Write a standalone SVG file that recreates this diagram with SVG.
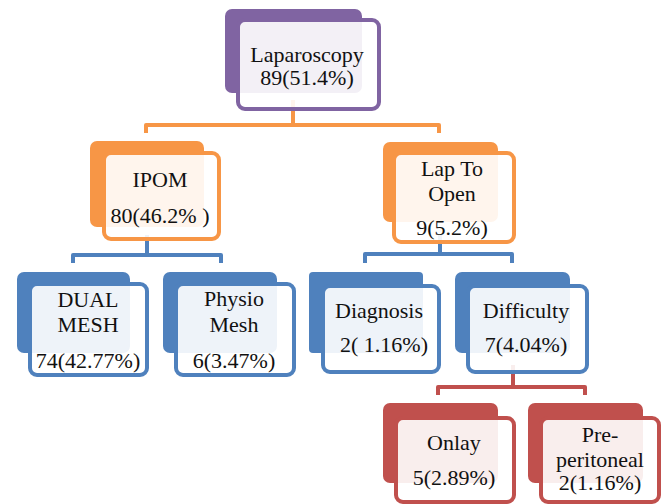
<svg xmlns="http://www.w3.org/2000/svg" width="669" height="504" viewBox="0 0 669 504" font-family="Liberation Serif, Times New Roman, serif" font-size="22">
<style>
.bk{stroke:none}
.fr{fill:#ffffff;fill-opacity:0.9;stroke-width:4}
.p .bk{fill:#8064a2}.p .fr{stroke:#8064a2}
.o .bk{fill:#f79646}.o .fr{stroke:#f79646}
.b .bk{fill:#4f81bd}.b .fr{stroke:#4f81bd}
.r .bk{fill:#c0504d}.r .fr{stroke:#c0504d}
text{fill:#111;text-anchor:middle}
.cn{fill:none;stroke-width:4;stroke-linejoin:round}
</style>
<g id="connectors">
<path class="cn" stroke="#f79646" d="M293,100 V125 M146,133 V125 H439 V133"/>
<path class="cn" stroke="#4f81bd" d="M147,235 V255 M73,263 V255 H221 V263"/>
<path class="cn" stroke="#4f81bd" d="M440,235 V254 M365,263 V254 H512 V263"/>
<path class="cn" stroke="#c0504d" d="M513,365 V387 M438,395 V387 H585 V395"/>
</g>
<g id="laparoscopy" class="p">
<rect class="bk" x="225" y="9" width="137" height="84" rx="7"/>
<rect class="fr" x="238" y="20" width="141" height="89" rx="7"/>
<text x="307" y="62" font-family="Liberation Serif, serif">Laparoscopy</text>
<text x="307" y="85" font-family="Liberation Serif, serif">89(51.4%)</text>
</g>
<g id="ipom" class="o">
<rect class="bk" x="90" y="141" width="114" height="86" rx="7"/>
<rect class="fr" x="104" y="153" width="115" height="86" rx="7"/>
<text x="160" y="187" font-family="Liberation Serif, serif">IPOM</text>
<text x="160" y="223" font-family="Liberation Serif, serif">80(46.2% )</text>
</g>
<g id="laptoopen" class="o">
<rect class="bk" x="383" y="142" width="115" height="80" rx="7"/>
<rect class="fr" x="394" y="153" width="120" height="89" rx="7"/>
<text x="452" y="176" font-family="Liberation Serif, serif">Lap To</text>
<text x="452" y="201" font-family="Liberation Serif, serif">Open</text>
<text x="452" y="235" font-family="Liberation Serif, serif">9(5.2%)</text>
</g>
<g id="dualmesh" class="b">
<rect class="bk" x="17" y="272" width="113" height="81" rx="7"/>
<rect class="fr" x="30" y="284" width="117" height="91" rx="7"/>
<text x="88" y="307" font-family="Liberation Serif, serif">DUAL</text>
<text x="88" y="332" font-family="Liberation Serif, serif">MESH</text>
<text x="88" y="368" font-family="Liberation Serif, serif">74(42.77%)</text>
</g>
<g id="physiomesh" class="b">
<rect class="bk" x="163" y="272" width="114" height="81" rx="7"/>
<rect class="fr" x="176" y="284" width="118" height="91" rx="7"/>
<text x="234" y="306" font-family="Liberation Serif, serif">Physio</text>
<text x="234" y="332" font-family="Liberation Serif, serif">Mesh</text>
<text x="234" y="368" font-family="Liberation Serif, serif">6(3.47%)</text>
</g>
<g id="diagnosis" class="b">
<rect class="bk" x="309" y="272" width="114" height="81" rx="4"/>
<rect class="fr" x="323" y="286" width="116" height="86" rx="7"/>
<text x="379" y="318" font-family="Liberation Serif, serif">Diagnosis</text>
<text x="384" y="352" font-family="Liberation Serif, serif">2( 1.16%)</text>
</g>
<g id="difficulty" class="b">
<rect class="bk" x="455" y="272" width="115" height="81" rx="7"/>
<rect class="fr" x="468" y="286" width="119" height="86" rx="7"/>
<text x="526" y="318" font-family="Liberation Serif, serif">Difficulty</text>
<text x="526" y="352" font-family="Liberation Serif, serif">7(4.04%)</text>
</g>
<g id="onlay" class="r">
<rect class="bk" x="383" y="403" width="115" height="80" rx="7"/>
<rect class="fr" x="396" y="418" width="118" height="84" rx="7"/>
<text x="454" y="450" font-family="Liberation Serif, serif">Onlay</text>
<text x="454" y="485" font-family="Liberation Serif, serif">5(2.89%)</text>
</g>
<g id="preperitoneal" class="r">
<rect class="bk" x="528" y="403" width="115" height="80" rx="7"/>
<rect class="fr" x="541" y="418" width="118" height="84" rx="7"/>
<text x="600" y="442" font-family="Liberation Serif, serif">Pre-</text>
<text x="600" y="467" font-family="Liberation Serif, serif">peritoneal</text>
<text x="600" y="490" font-family="Liberation Serif, serif">2(1.16%)</text>
</g>
</svg>
